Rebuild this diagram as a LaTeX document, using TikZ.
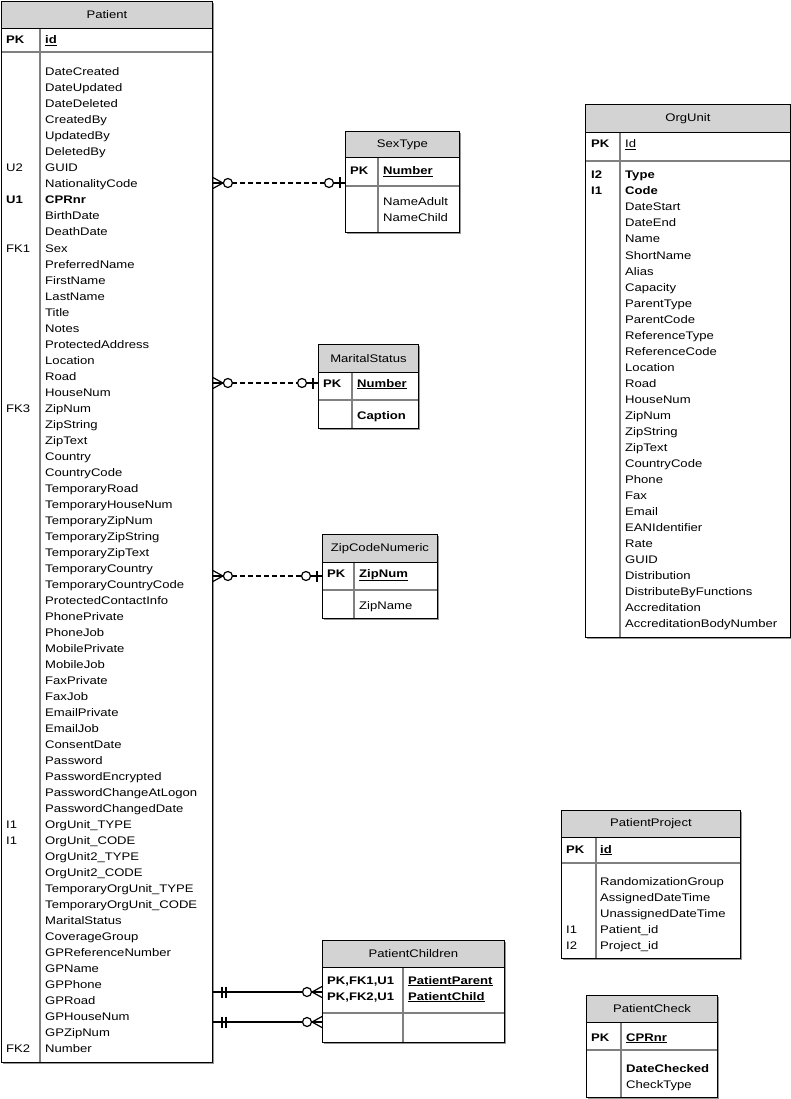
\documentclass[tikz,border=0pt]{standalone}
\usepackage{fontspec}
\setmainfont{Liberation Sans}[FakeStretch=1.19]
\usetikzlibrary{calc}

\definecolor{headgray}{RGB}{211,211,211}
\definecolor{rulegray}{RGB}{128,128,128}
\definecolor{shadegray}{RGB}{150,150,150}

\newcommand{\erfont}{\fontsize{11}{16}\selectfont}

\tikzset{
  frame/.style={draw=black, line width=0.9pt},
  shade/.style={fill=shadegray},
  head/.style={draw=black, line width=0.9pt, fill=headgray, anchor=north west,
    inner sep=0pt, font=\erfont},
  rule/.style={draw=rulegray, line width=1.6pt},
  field/.style={anchor=base west, inner sep=0pt, font=\erfont},
  rel/.style={draw=black, line width=1.2pt},
  % zero or many
  crowmany/.pic={
    \draw[rel] (0,-5.5) -- (10,0) -- (0,5.5);
    \draw[rel] (0,0) -- (10,0);
    \draw[rel, fill=white] (15,0) circle (4.5);
  },
  % zero or one
  zeroone/.pic={
    \draw[rel] (0,0) -- (11.5,0);
    \draw[rel] (5,-5.5) -- (5,5.5);
    \draw[rel, fill=white] (16,0) circle (4.5);
  },
  % one and only one
  oneone/.pic={
    \draw[rel] (9,-5.5) -- (9,5.5);
    \draw[rel] (13,-5.5) -- (13,5.5);
  }
}

\begin{document}
\begin{tikzpicture}[x=1pt, y=-1pt]

    \useasboundingbox (0,0) rectangle (791,1099);

    % Patient
    \fill[shade] (3,3) rectangle (214,1064);
    \fill[white] (1,1) rectangle (212,1062);
    \draw[rule] (1,52) -- (212,52);
    \draw[rule] (40,28) -- (40,1062);
    \node[head, minimum width=211, minimum height=27] (patient) at (1,1) {Patient};
    \draw[frame] (patient.north west) rectangle (212,1062);
    \node[field] (patient-pk) at (6,44) {\textbf{PK}};
    \node[field] (patient-id) at (45,44) {\textbf{\underline{id}}};
    \foreach \name [count=\i from 0] in {DateCreated, DateUpdated, DateDeleted,
        CreatedBy, UpdatedBy, DeletedBy, GUID, NationalityCode, {\textbf{CPRnr}},
        BirthDate, DeathDate, Sex, PreferredName, FirstName, LastName, Title,
        Notes, ProtectedAddress, Location, Road, HouseNum, ZipNum, ZipString,
        ZipText, Country, CountryCode, TemporaryRoad, TemporaryHouseNum,
        TemporaryZipNum, TemporaryZipString, TemporaryZipText, TemporaryCountry,
        TemporaryCountryCode, ProtectedContactInfo, PhonePrivate, PhoneJob,
        MobilePrivate, MobileJob, FaxPrivate, FaxJob, EmailPrivate, EmailJob,
        ConsentDate, Password, PasswordEncrypted, PasswordChangeAtLogon,
        PasswordChangedDate, OrgUnit\_TYPE, OrgUnit\_CODE, OrgUnit2\_TYPE,
        OrgUnit2\_CODE, TemporaryOrgUnit\_TYPE, TemporaryOrgUnit\_CODE,
        MaritalStatus, CoverageGroup, GPReferenceNumber, GPName, GPPhone,
        GPRoad, GPHouseNum, GPZipNum, Number}
      \node[field] (patient-f\i) at (45,{76+16*\i}) {\name};
    \foreach \key/\row in {U2/6, \textbf{U1}/8, FK1/11, FK3/21, I1/47, I1/48, FK2/61}
      \node[field] (patient-k\row) at (6,{76+16*\row}) {\key};

    % SexType
    \fill[shade] (347,133) rectangle (461,234);
    \fill[white] (345,131) rectangle (459,232);
    \draw[rule] (345,186) -- (459,186);
    \draw[rule] (378,157) -- (378,232);
    \node[head, minimum width=114, minimum height=26] (sextype) at (345,131) {SexType};
    \draw[frame] (sextype.north west) rectangle (459,232);
    \node[field] (sextype-pk) at (350,175) {\textbf{PK}};
    \node[field] (sextype-number) at (383,175) {\textbf{\underline{Number}}};
    \node[field] (sextype-adult) at (383,206) {NameAdult};
    \node[field] (sextype-child) at (383,222) {NameChild};

    % MaritalStatus
    \fill[shade] (320,346) rectangle (420,430);
    \fill[white] (318,344) rectangle (418,428);
    \draw[rule] (318,400) -- (418,400);
    \draw[rule] (352,372) -- (352,428);
    \node[head, minimum width=100, minimum height=28] (marital) at (318,344) {MaritalStatus};
    \draw[frame] (marital.north west) rectangle (418,428);
    \node[field] (marital-pk) at (323,387) {\textbf{PK}};
    \node[field] (marital-number) at (357,387) {\textbf{\underline{Number}}};
    \node[field] (marital-caption) at (357,419) {\textbf{Caption}};

    % ZipCodeNumeric
    \fill[shade] (324,536) rectangle (439,620);
    \fill[white] (322,534) rectangle (437,618);
    \draw[rule] (322,590) -- (437,590);
    \draw[rule] (354,562) -- (354,618);
    \node[head, minimum width=115, minimum height=28] (zipcode) at (322,534) {ZipCodeNumeric};
    \draw[frame] (zipcode.north west) rectangle (437,618);
    \node[field] (zipcode-pk) at (327,577) {\textbf{PK}};
    \node[field] (zipcode-zipnum) at (359,577) {\textbf{\underline{ZipNum}}};
    \node[field] (zipcode-zipname) at (359,609) {ZipName};

    % PatientChildren
    \fill[shade] (324,942) rectangle (506,1044);
    \fill[white] (322,940) rectangle (504,1042);
    \draw[rule] (322,1013) -- (504,1013);
    \draw[rule] (403,967) -- (403,1042);
    \node[head, minimum width=182, minimum height=27] (children) at (322,940) {PatientChildren};
    \draw[frame] (children.north west) rectangle (504,1042);
    \node[field] (children-k1) at (327,984) {\textbf{PK,FK1,U1}};
    \node[field] (children-k2) at (327,1000) {\textbf{PK,FK2,U1}};
    \node[field] (children-parent) at (408,984) {\textbf{\underline{PatientParent}}};
    \node[field] (children-child) at (408,1000) {\textbf{\underline{PatientChild}}};

    % OrgUnit
    \fill[shade] (587,106) rectangle (792,639);
    \fill[white] (585,104) rectangle (790,637);
    \draw[rule] (585,161) -- (790,161);
    \draw[rule] (620,132) -- (620,637);
    \node[head, minimum width=205, minimum height=28] (orgunit) at (585,104) {OrgUnit};
    \draw[frame] (orgunit.north west) rectangle (790,637);
    \node[field] (orgunit-pk) at (591,148) {\textbf{PK}};
    \node[field] (orgunit-id) at (625,148) {\underline{Id}};
    \foreach \name [count=\i from 0] in {{\textbf{Type}}, {\textbf{Code}}, DateStart,
        DateEnd, Name, ShortName, Alias, Capacity, ParentType, ParentCode,
        ReferenceType, ReferenceCode, Location, Road, HouseNum, ZipNum, ZipString,
        ZipText, CountryCode, Phone, Fax, Email, EANIdentifier, Rate, GUID,
        Distribution, DistributeByFunctions, Accreditation, AccreditationBodyNumber}
      \node[field] (orgunit-f\i) at (625,{179+16*\i}) {\name};
    \node[field] (orgunit-k0) at (591,179) {\textbf{I2}};
    \node[field] (orgunit-k1) at (591,195) {\textbf{I1}};

    % PatientProject
    \fill[shade] (563,812) rectangle (742,960);
    \fill[white] (561,810) rectangle (740,958);
    \draw[rule] (561,863) -- (740,863);
    \draw[rule] (596,837) -- (596,958);
    \node[head, minimum width=179, minimum height=27] (project) at (561,810) {PatientProject};
    \draw[frame] (project.north west) rectangle (740,958);
    \node[field] (project-pk) at (566,853) {\textbf{PK}};
    \node[field] (project-id) at (600,853) {\textbf{\underline{id}}};
    \foreach \name [count=\i from 0] in {RandomizationGroup, AssignedDateTime,
        UnassignedDateTime, Patient\_id, Project\_id}
      \node[field] (project-f\i) at (600,{885+16*\i}) {\name};
    \node[field] (project-k3) at (566,933) {I1};
    \node[field] (project-k4) at (566,949) {I2};

    % PatientCheck
    \fill[shade] (588,997) rectangle (719,1099);
    \fill[white] (586,995) rectangle (717,1097);
    \draw[rule] (586,1050) -- (717,1050);
    \draw[rule] (621,1022) -- (621,1097);
    \node[head, minimum width=131, minimum height=27] (check) at (586,995) {PatientCheck};
    \draw[frame] (check.north west) rectangle (717,1097);
    \node[field] (check-pk) at (591,1041) {\textbf{PK}};
    \node[field] (check-cprnr) at (626,1041) {\textbf{\underline{CPRnr}}};
    \node[field] (check-date) at (626,1072) {\textbf{DateChecked}};
    \node[field] (check-type) at (626,1088) {CheckType};

    % Relationships
    \coordinate (sex-link) at (345,183);
    \coordinate (marital-link) at (318,383);
    \coordinate (zip-link) at (322,576);
    \coordinate (kids-link1) at (322,992);
    \coordinate (kids-link2) at (322,1022);

    \foreach \target in {sex-link, marital-link, zip-link} {
      \draw[rel, dash pattern=on 5pt off 3pt, shorten <=19.5pt, shorten >=20.5pt]
        (patient.east |- \target) -- (\target);
      \pic at (patient.east |- \target) {crowmany};
      \pic[rotate=180] at (\target) {zeroone};
    }

    \foreach \target in {kids-link1, kids-link2} {
      \draw[rel, shorten >=19.5pt] (patient.east |- \target) -- (\target);
      \pic at (patient.east |- \target) {oneone};
      \pic[rotate=180] at (\target) {crowmany};
    }

\end{tikzpicture}
\end{document}
